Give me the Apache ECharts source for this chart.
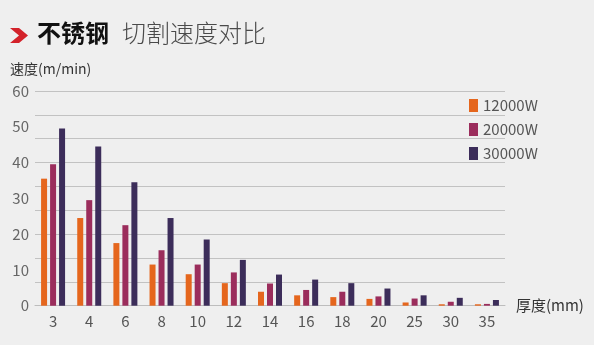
<!DOCTYPE html>
<html>
<head>
<meta charset="utf-8">
<style>
  html, body { margin: 0; padding: 0; background: #efefef; }
  #chart { width: 594px; height: 345px; }
</style>
<script src="https://cdn.jsdelivr.net/npm/echarts@6/dist/echarts.min.js"></script>
</head>
<body>
<div id="chart"></div>
<script>
// Plate thickness (mm)
const thickness = ['3', '4', '6', '8', '10', '12', '14', '16', '18', '20', '25', '30', '35'];
// Cutting speed (m/min) per laser power
const speed12000 = [35.5, 24.5, 17.5, 11.5, 8.8, 6.3, 3.9, 2.9, 2.4, 1.9, 0.9, 0.4, 0.4];
const speed20000 = [39.5, 29.5, 22.5, 15.5, 11.5, 9.3, 6.2, 4.4, 3.9, 2.6, 2.0, 1.1, 0.5];
const speed30000 = [49.5, 44.5, 34.5, 24.5, 18.5, 12.8, 8.7, 7.3, 6.3, 4.8, 2.9, 2.2, 1.6];
const seriesNames = ['12000W', '20000W', '30000W'];
const seriesColors = ['#e5661d', '#9b2d5c', '#3c2d5a'];

const FONT = '"Noto Sans CJK SC", "Noto Sans", sans-serif';

const chart = echarts.init(document.getElementById('chart'), null, { renderer: 'canvas' });

const makeBar = (name, data, color) => ({
  name,
  type: 'bar',
  data,
  barWidth: 6,
  barGap: '50%',
  itemStyle: { color },
  yAxisIndex: 0
});

chart.setOption({
  backgroundColor: '#efefef',
  animation: false,
  textStyle: { fontFamily: FONT },
  graphic: [
    {
      type: 'polygon',
      shape: { points: [[10, 28], [19, 28], [28, 35.5], [19, 43], [10, 43], [19, 35.5]] },
      style: { fill: '#d3222a' }
    },
    {
      type: 'text', left: 37, top: 21,
      style: { text: '不锈钢', font: 'bold 24px ' + FONT, fill: '#111' }
    },
    {
      type: 'text', left: 122, top: 21,
      style: { text: '切割速度对比', font: '300 24px ' + FONT, fill: '#4a4a4a' }
    },
    {
      type: 'text', left: 10, top: 62,
      style: { text: '速度(m/min)', font: '14px ' + FONT, fill: '#333' }
    }
  ],
  legend: {
    data: seriesNames,
    orient: 'vertical',
    left: 464,
    top: 93,
    itemWidth: 9,
    itemHeight: 13,
    itemGap: 9,
    icon: 'rect',
    textStyle: { fontSize: 15, color: '#555', fontFamily: FONT }
  },
  grid: { left: 35, right: 89, top: 91, bottom: 39.3, containLabel: false },
  xAxis: {
    type: 'category',
    data: thickness,
    name: '厚度(mm)',
    nameLocation: 'end',
    nameGap: 11,
    nameTextStyle: { fontSize: 15, color: '#333', fontFamily: FONT, verticalAlign: 'middle' },
    axisLine: { lineStyle: { color: '#bdbdbd', width: 1 } },
    axisTick: { show: false },
    axisLabel: { fontSize: 15, color: '#555', margin: 8, fontFamily: FONT }
  },
  yAxis: [
    {
      type: 'value',
      min: 0, max: 60, interval: 10,
      axisLine: { show: false },
      axisTick: { show: false },
      splitLine: { show: false },
      axisLabel: { fontSize: 15, color: '#666', margin: 6, fontFamily: FONT }
    },
    {
      type: 'value',
      position: 'left',
      min: 0, max: 60, interval: 20 / 3,
      axisLine: { show: false },
      axisTick: { show: false },
      axisLabel: { show: false },
      splitLine: { lineStyle: { color: '#c2c2c2', width: 1 } }
    }
  ],
  series: [
    makeBar(seriesNames[0], speed12000, seriesColors[0]),
    makeBar(seriesNames[1], speed20000, seriesColors[1]),
    makeBar(seriesNames[2], speed30000, seriesColors[2])
  ]
});
</script>
</body>
</html>
